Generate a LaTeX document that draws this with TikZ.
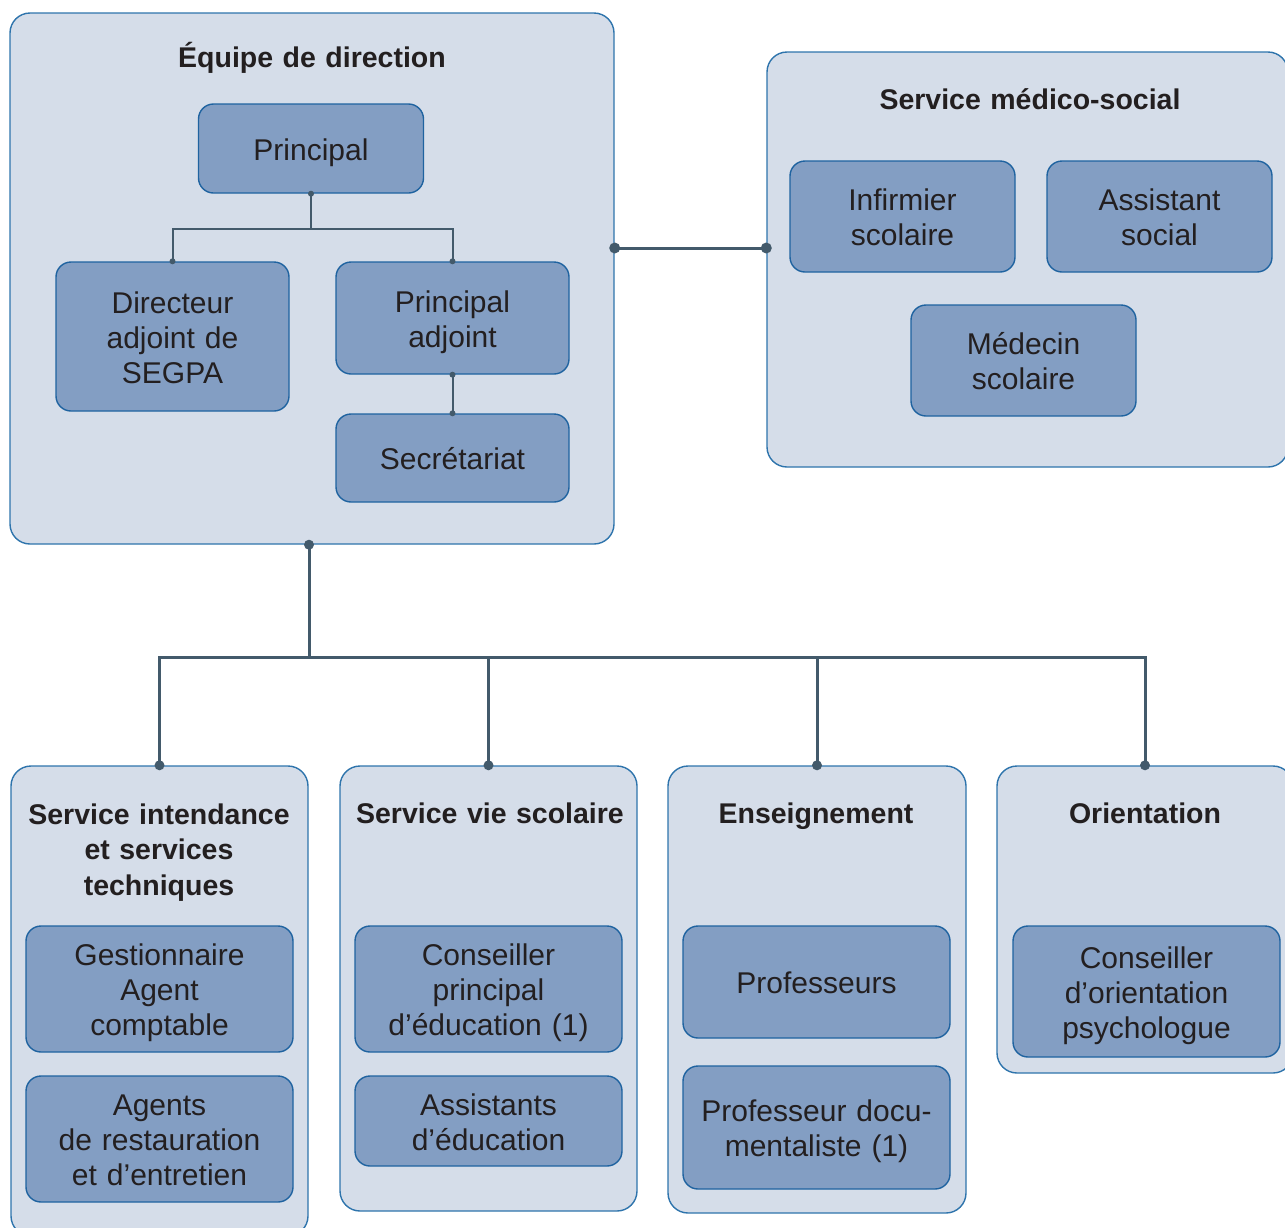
\documentclass[tikz,border=0pt]{standalone}
\usepackage{fontspec}
\setmainfont{Liberation Sans}
\definecolor{paneFill}{HTML}{D5DDE9}
\definecolor{paneLine}{HTML}{2E74AC}
\definecolor{roleFill}{HTML}{839EC3}
\definecolor{roleLine}{HTML}{1F63A0}
\definecolor{linkLine}{HTML}{435A6B}
\definecolor{ink}{HTML}{231F20}

\begin{document}
\begin{tikzpicture}[x=1pt,y=-1pt,inner sep=0pt,text=ink]
	  \tikzstyle{pane}=[draw=paneLine,fill=paneFill,line width=1.4pt,rounded corners=20pt]
	  \tikzstyle{role}=[draw=roleLine,fill=roleFill,line width=1.4pt,rounded corners=15pt,
	                    align=center,text width=225pt,font=\fontsize{30}{35}\selectfont,
	                    execute at begin node={\rule{0pt}{30pt}},
	                    execute at end node={\rule[-7pt]{0pt}{7pt}}]
	  \tikzstyle{title}=[align=center,text width=320pt,font=\bfseries\fontsize{28.5}{35.5}\selectfont,
	                     execute at begin node={\rule{0pt}{28pt}},
	                     execute at end node={\rule[-7pt]{0pt}{7pt}}]
	  \tikzstyle{wire}=[draw=linkLine,line width=2pt]
	  \tikzstyle{trunk}=[draw=linkLine,line width=3pt]

	  \clip (0,0) rectangle (1285,1227);

	  % services
	  \node[pane,minimum width=604pt,minimum height=531pt] (direction)    at (312,278.5)   {};
	  \node[pane,minimum width=521pt,minimum height=415pt] (medsoc)       at (1027.5,259.5) {};
	  \node[pane,minimum width=297pt,minimum height=470pt] (intendance)   at (159.5,1001)  {};
	  \node[pane,minimum width=297pt,minimum height=445pt] (viescol)      at (488.5,988.5) {};
	  \node[pane,minimum width=298pt,minimum height=447pt] (enseignement) at (817,989.5)   {};
	  \node[pane,minimum width=296pt,minimum height=307pt] (orientation)  at (1145,919.5)  {};

	  \node[title] (tdirection)    at (312,57)   {Équipe de direction};
	  \node[title] (tmedsoc)       at (1030,99)  {Service médico-social};
	  \node[title] (tintendance)   at (159,849)  {Service intendance\\et services\\techniques};
	  \node[title] (tviescol)      at (490,813)  {Service vie scolaire};
	  \node[title] (tenseignement) at (816,813)  {Enseignement};
	  \node[title] (torientation)  at (1145,813) {Orientation};

	  % postes
	  \node[role,minimum width=225pt,minimum height=89pt]  (principal)  at (311,148.5)   {Principal};
	  \node[role,minimum width=233pt,minimum height=149pt] (dirsegpa)   at (172.5,336.5) {Directeur\\adjoint de\\SEGPA};
	  \node[role,minimum width=233pt,minimum height=112pt] (padjoint)   at (452.5,318)   {Principal\\adjoint};
	  \node[role,minimum width=233pt,minimum height=88pt]  (secret)     at (452.5,458)   {Secrétariat};

	  \node[role,minimum width=225pt,minimum height=111pt] (infirmier)  at (902.5,216.5)  {Infirmier\\scolaire};
	  \node[role,minimum width=225pt,minimum height=111pt] (assistsoc)  at (1159.5,216.5) {Assistant\\social};
	  \node[role,minimum width=225pt,minimum height=111pt] (medecin)    at (1023.5,360.5) {Médecin\\scolaire};

	  \node[role,minimum width=267pt,minimum height=126pt] (gestion)    at (159.5,989)   {Gestionnaire\\Agent\\comptable};
	  \node[role,minimum width=267pt,minimum height=126pt] (agents)     at (159.5,1139)  {Agents\\de restauration\\et d’entretien};
	  \node[role,minimum width=267pt,minimum height=126pt] (cpe)        at (488.5,989)   {Conseiller\\principal\\d’éducation (1)};
	  \node[role,minimum width=267pt,minimum height=90pt]  (assisted)   at (488.5,1121)  {Assistants\\d’éducation};
	  \node[role,minimum width=267pt,minimum height=112pt] (profs)      at (816.5,982)   {Professeurs};
	  \node[role,text width=245pt,minimum width=267pt,minimum height=123pt] (profdoc) at (816.5,1127.5) {Professeur docu-\\mentaliste (1)};
	  \node[role,minimum width=267pt,minimum height=131pt] (copsy)      at (1146.5,991.5) {Conseiller\\d’orientation\\psychologue};

	  % liens
	  \draw[wire] (principal.south) -- ++(0,35) -| (dirsegpa.north);
	  \draw[wire] (principal.south) -- ++(0,35) -| (padjoint.north);
	  \draw[wire] (padjoint.south) -- (secret.north);
	  \foreach \p in {principal.south,dirsegpa.north,padjoint.north,padjoint.south,secret.north}
	    \fill[linkLine] (\p) circle (3pt);

	  \coordinate (link) at (690,248);
	  \draw[trunk] (direction.east |- link) -- (medsoc.west |- link);
	  \fill[linkLine] (direction.east |- link) circle (5.5pt)
	                  (medsoc.west |- link) circle (5.5pt);

	  \coordinate (hub) at (309,657);
	  \draw[trunk] (hub |- direction.south) -- (hub);
	  \fill[linkLine] (hub |- direction.south) circle (5pt);
	  \foreach \s in {intendance,viescol,enseignement,orientation} {
	    \draw[trunk] (hub) -| (\s.north);
	    \fill[linkLine] (\s.north) circle (5pt);
	  }
	\end{tikzpicture}
\end{document}
